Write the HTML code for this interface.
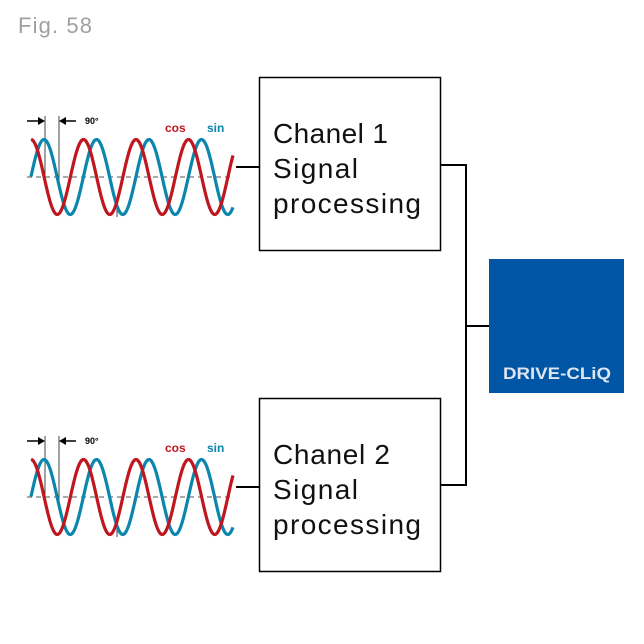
<!DOCTYPE html>
<html><head><style>
body{margin:0;background:#fff;width:644px;height:639px;overflow:hidden;font-family:"Liberation Sans",sans-serif}
</style></head><body>
<svg width="644" height="639" xmlns="http://www.w3.org/2000/svg">
<text x="18" y="33" font-size="22" fill="#a0a0a0" textLength="74" font-family="Liberation Sans, sans-serif">Fig. 58</text>
<defs>
<g id="w">
<line x1="27" y1="177" x2="230" y2="177" stroke="#555" stroke-width="1" stroke-dasharray="5,4"/>
<line x1="45" y1="116" x2="45" y2="180" stroke="#444" stroke-width="1"/>
<line x1="59" y1="116" x2="59" y2="180" stroke="#444" stroke-width="1"/>
<line x1="117" y1="205" x2="117" y2="217" stroke="#444" stroke-width="1"/>
<line x1="27" y1="121" x2="40" y2="121" stroke="#000" stroke-width="1.5"/>
<polygon points="45,121 38,117 38,125" fill="#000"/>
<line x1="64" y1="121" x2="76" y2="121" stroke="#000" stroke-width="1.5"/>
<polygon points="59,121 66,117 66,125" fill="#000"/>
<text x="85" y="124" font-size="9" font-weight="bold" fill="#000">90°</text>
<text x="165" y="132" font-size="12" font-weight="bold" fill="#c0161f">cos</text>
<text x="207" y="132" font-size="12" font-weight="bold" fill="#0b86ad">sin</text>
</g>
</defs>
<g id="g1"></g>
<g id="g2" transform="translate(0,320)"></g>
<rect x="259.5" y="77.5" width="181" height="173" fill="none" stroke="#000" stroke-width="1.5"/>
<rect x="259.5" y="398.5" width="181" height="173" fill="none" stroke="#000" stroke-width="1.5"/>
<g font-size="28" fill="#111" font-family="Liberation Sans, sans-serif">
<text x="273" y="143" textLength="115">Chanel 1</text><text x="273" y="178" textLength="85">Signal</text><text x="273" y="213" textLength="148">processing</text>
<text x="273" y="464" textLength="117">Chanel 2</text><text x="273" y="499" textLength="85">Signal</text><text x="273" y="534" textLength="148">processing</text>
</g>
<g stroke="#000" stroke-width="2" fill="none">
<line x1="236" y1="167" x2="259" y2="167"/>
<line x1="236" y1="487" x2="259" y2="487"/>
<polyline points="440,165 466,165 466,485 440,485"/>
<line x1="466" y1="326" x2="489" y2="326"/>
</g>
<rect x="489" y="259" width="135" height="134" fill="#0055a4"/>
<text x="503" y="379" font-size="17" font-weight="bold" fill="#dde4f2" textLength="108" lengthAdjust="spacingAndGlyphs">DRIVE-CLiQ</text>
</svg>
<script>
function wave(ph,color){let d="";const P=52.5,A=37.5,c=177;for(let x=31;x<=233;x+=1){const y=c-A*Math.cos(2*Math.PI*(x-ph)/P);d+=(x==31?"M":"L")+x+","+y.toFixed(2);}return '<path d="'+d+'" fill="none" stroke="'+color+'" stroke-width="3.2"/>';}
const base=document.querySelector('#w').innerHTML;
const html=base+wave(44,'#0b86ad')+wave(31,'#c0161f');
document.getElementById('g1').innerHTML=html;
document.getElementById('g2').innerHTML=html;
</script>
</body></html>
